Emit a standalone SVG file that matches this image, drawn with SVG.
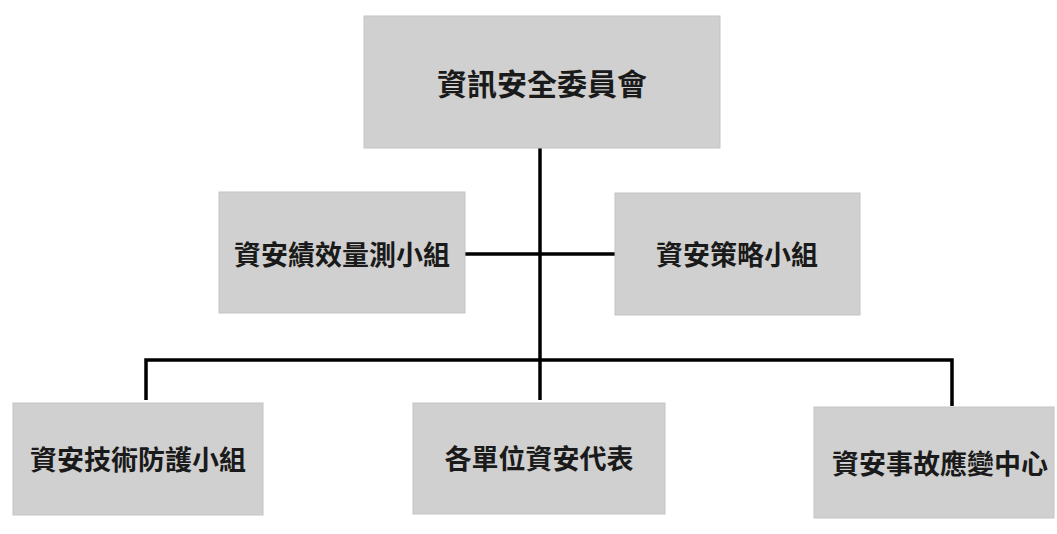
<svg xmlns="http://www.w3.org/2000/svg" width="1057" height="534" viewBox="0 0 1057 534">
<style>
.box{fill:#d0d0d0;stroke:#c4c4c4;stroke-width:1}
.t{font-family:"Noto Sans CJK TC","Noto Sans CJK SC",sans-serif;font-weight:bold;fill:#1a1a1a;text-anchor:middle;dominant-baseline:central}
.c{stroke:#000;stroke-width:3.5;fill:none}
</style>
<rect width="1057" height="534" fill="#fff"/>
<g id="connectors">
<line class="c" x1="540" y1="148" x2="540" y2="400"/>
<line class="c" x1="465" y1="254" x2="616" y2="254"/>
<polyline class="c" points="146,400 146,360 952,360 952,406"/>
</g>
<g id="node-committee">
<rect class="box" x="364" y="16" width="356" height="132"/>
<text class="t" x="542" y="82" font-size="30">資訊安全委員會</text>
</g>
<g id="node-performance">
<rect class="box" x="219" y="192" width="246" height="121"/>
<text class="t" x="342" y="253" font-size="27">資安績效量測小組</text>
</g>
<g id="node-strategy">
<rect class="box" x="615" y="193" width="245" height="122"/>
<text class="t" x="737" y="253" font-size="27">資安策略小組</text>
</g>
<g id="node-tech">
<rect class="box" x="13" y="403" width="250" height="112"/>
<text class="t" x="138" y="458" font-size="27">資安技術防護小組</text>
</g>
<g id="node-units">
<rect class="box" x="413" y="403" width="252" height="111"/>
<text class="t" x="539" y="457" font-size="27">各單位資安代表</text>
</g>
<g id="node-incident">
<rect class="box" x="814" y="407" width="240" height="111"/>
<text class="t" x="940" y="462" font-size="27">資安事故應變中心</text>
</g>
</svg>
